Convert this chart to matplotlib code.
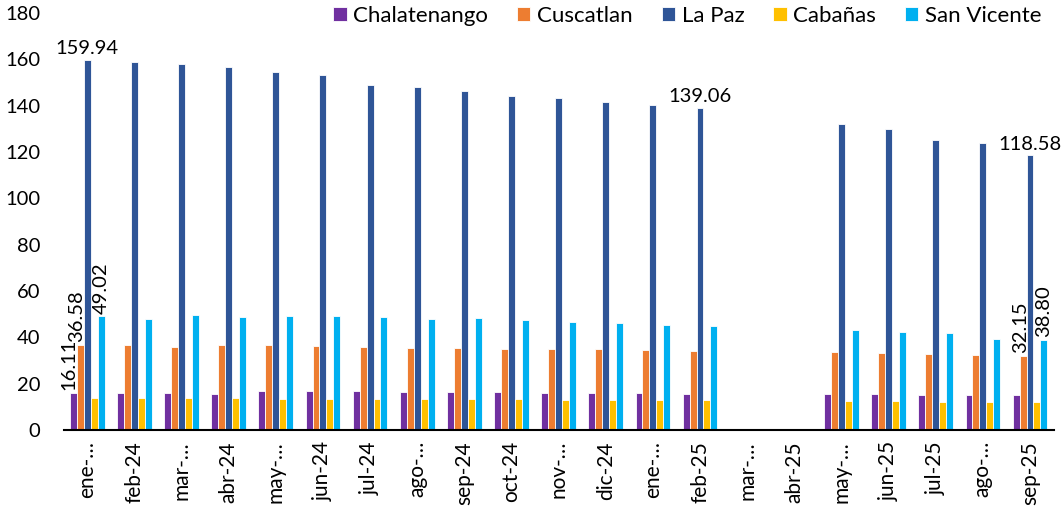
import numpy as np
import matplotlib.pyplot as plt

plt.rcParams['font.family'] = ['Lato', 'DejaVu Sans']

meses = ['ene-…', 'feb-24', 'mar-…', 'abr-24', 'may-…', 'jun-24', 'jul-24', 'ago-…',
         'sep-24', 'oct-24', 'nov-…', 'dic-24', 'ene-…', 'feb-25', 'mar-…', 'abr-25',
         'may-…', 'jun-25', 'jul-25', 'ago-…', 'sep-25']
nan = np.nan
chalatenango = [16.11, 16.1, 15.9, 15.7, 16.9, 16.7, 16.8, 16.6, 16.4, 16.2, 16.1, 16.0,
                15.9, 15.7, nan, nan, 15.5, 15.4, 15.3, 15.3, 15.0]
cuscatlan = [36.58, 36.5, 36.0, 36.8, 36.7, 36.4, 35.8, 35.5, 35.2, 34.9, 35.0, 34.8,
             34.6, 34.2, nan, nan, 33.5, 33.2, 32.6, 32.3, 32.15]
la_paz = [159.94, 158.7, 158.0, 156.5, 154.5, 153.3, 148.8, 147.9, 146.3, 144.3, 143.4,
          141.7, 140.1, 139.06, nan, nan, 132.1, 129.9, 125.2, 123.7, 118.58]
cabanas = [13.9, 13.8, 13.8, 13.7, 13.6, 13.6, 13.4, 13.3, 13.2, 13.2, 13.1, 13.1,
           12.8, 12.8, nan, nan, 12.5, 12.5, 12.3, 12.3, 12.1]
san_vicente = [49.02, 47.9, 49.5, 48.6, 49.1, 49.3, 48.6, 47.9, 48.2, 47.6, 46.7, 46.0,
               45.4, 44.9, nan, nan, 43.0, 42.1, 41.7, 39.1, 38.80]

series = [('Chalatenango', chalatenango, '#7030A0'),
          ('Cuscatlan', cuscatlan, '#ED7D31'),
          ('La Paz', la_paz, '#2F5597'),
          ('Cabañas', cabanas, '#FFC000'),
          ('San Vicente', san_vicente, '#00B0F0')]

fig = plt.figure(figsize=(10.61, 5.11), dpi=100)
ax = fig.add_axes([0.060, 0.1585, 0.933, 0.816])

x = np.arange(len(meses))
w = 0.147
bars = {}
for i, (name, vals, col) in enumerate(series):
    bars[name] = ax.bar(x + (i - 2) * w, vals, w, color=col, edgecolor='white',
                        linewidth=0.6, label=name)

# etiquetas de datos
def etiqueta(name, idx, rot, dx=0):
    r = bars[name][idx]
    ax.annotate(f'{r.get_height():.2f}', (r.get_x() + r.get_width() / 2, r.get_height()),
                xytext=(dx, 2), textcoords='offset points', ha='center', va='bottom',
                rotation=rot, fontsize=14.5)

etiqueta('La Paz', 0, 0)
etiqueta('La Paz', 13, 0)
etiqueta('La Paz', 20, 0)
etiqueta('Chalatenango', 0, 90, -3)
etiqueta('Cuscatlan', 0, 90, -3)
etiqueta('San Vicente', 0, 90)
etiqueta('Cuscatlan', 20, 90, -2)
etiqueta('San Vicente', 20, 90)

ax.set_xlim(-0.5, len(meses) - 0.5)
ax.set_ylim(0, 180)
ax.set_yticks(np.arange(0, 181, 20))
ax.set_xticks(x)
ax.set_xticklabels(meses, rotation=90, fontsize=15)
ax.tick_params(axis='y', length=0, pad=17, labelsize=14.5)
ax.tick_params(axis='x', length=0, pad=8)
for s in ['top', 'right', 'left']:
    ax.spines[s].set_visible(False)
ax.spines['bottom'].set_linewidth(1.5)

ax.legend(loc='upper right', bbox_to_anchor=(1.008, 1.065), ncol=5, frameon=False,
          fontsize=16, handlelength=0.6, handleheight=0.6, handletextpad=0.3,
          columnspacing=1.3)

plt.savefig('out.png', dpi=100)
